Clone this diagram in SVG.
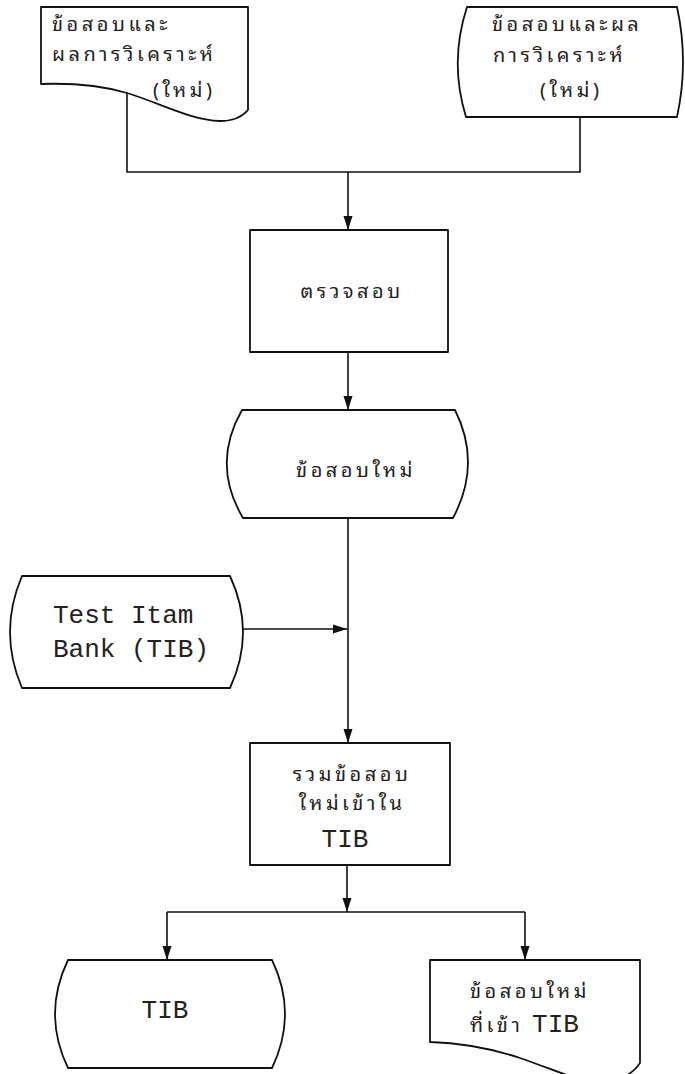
<svg xmlns="http://www.w3.org/2000/svg" width="685" height="1074" viewBox="0 0 685 1074">
<style>
.s{fill:#fff;stroke:#111;stroke-width:1.8;stroke-linejoin:round}
.c{fill:none;stroke:#111;stroke-width:1.6}
.th{font-family:"Tlwg Typewriter","Noto Sans Thai Looped","Noto Serif Thai","Noto Sans Thai","Noto Sans","DejaVu Sans",sans-serif;font-size:20px;letter-spacing:3.5px;fill:#222}
.en{font-family:"Liberation Mono","DejaVu Sans Mono",monospace;font-size:26px;letter-spacing:0;fill:#222}
</style>
<defs>
<marker id="ah" markerUnits="userSpaceOnUse" markerWidth="14" markerHeight="10" refX="14" refY="5" orient="auto">
<path d="M0,0.5 L14,5 L0,9.5 Z" fill="#111"/>
</marker>
</defs>
<rect width="685" height="1074" fill="#fff"/>
<g id="connectors">
<path class="c" d="M127,93 V172 H580 V117"/>
<path class="c" d="M348,172 V230" marker-end="url(#ah)"/>
<path class="c" d="M348,352 V410" marker-end="url(#ah)"/>
<path class="c" d="M348,518 V743" marker-end="url(#ah)"/>
<path class="c" d="M243,629 H347" marker-end="url(#ah)"/>
<path class="c" d="M347,865 V912" marker-end="url(#ah)"/>
<path class="c" d="M167,912 H525"/>
<path class="c" d="M167,912 V960" marker-end="url(#ah)"/>
<path class="c" d="M525,912 V960" marker-end="url(#ah)"/>
</g>
<g id="doc1">
<path class="s" d="M41,7 H248 V110 C243,116 235,121 220,121 C190,120 160,103 127,93 C100,85 70,83 41,84 Z"/>
<text class="th" x="52" y="31">ข้อสอบและ</text>
<text class="th" x="52" y="61">ผลการวิเคราะห์</text>
<text class="th" x="153" y="97">(ใหม่)</text>
</g>
<g id="store1">
<path class="s" d="M467,7 H677 Q689,62 677,117 H466 Q449,62 467,7 Z"/>
<text class="th" x="492" y="31">ข้อสอบและผล</text>
<text class="th" x="493" y="62">การวิเคราะห์</text>
<text class="th" x="540" y="97">(ใหม่)</text>
</g>
<g id="check">
<rect class="s" x="250" y="230" width="198" height="122"/>
<text class="th" x="352" y="298" text-anchor="middle">ตรวจสอบ</text>
</g>
<g id="newitems">
<path class="s" d="M242,410 H455 Q482,464 453,518 H243 Q211,464 242,410 Z"/>
<text class="th" x="356" y="477" text-anchor="middle">ข้อสอบใหม่</text>
</g>
<g id="tib-in">
<path class="s" d="M22,576 H230 Q256,632 230,688 H22 Q-2,632 22,576 Z"/>
<text class="en" x="53" y="623">Test Itam</text>
<text class="en" x="53" y="657">Bank (TIB)</text>
</g>
<g id="merge">
<rect class="s" x="250" y="743" width="200" height="122"/>
<text class="th" x="352" y="781" text-anchor="middle">รวมข้อสอบ</text>
<text class="th" x="352" y="810" text-anchor="middle">ใหม่เข้าใน</text>
<text class="en" x="345" y="847" text-anchor="middle">TIB</text>
</g>
<g id="tib-out">
<path class="s" d="M68,960 H272 Q298,1014 272,1068 H68 Q42,1014 68,960 Z"/>
<text class="en" x="165" y="1018" text-anchor="middle">TIB</text>
</g>
<g id="doc2">
<path class="s" d="M430,960 H640 V1063 C632,1075 620,1082 598,1082 C580,1082 560,1072 520,1058 C490,1048 460,1043 430,1042 Z"/>
<text class="th" x="470" y="998">ข้อสอบใหม่</text>
<text class="th" x="470" y="1032">ที่เข้า <tspan class="en">TIB</tspan></text>
</g>
</svg>
